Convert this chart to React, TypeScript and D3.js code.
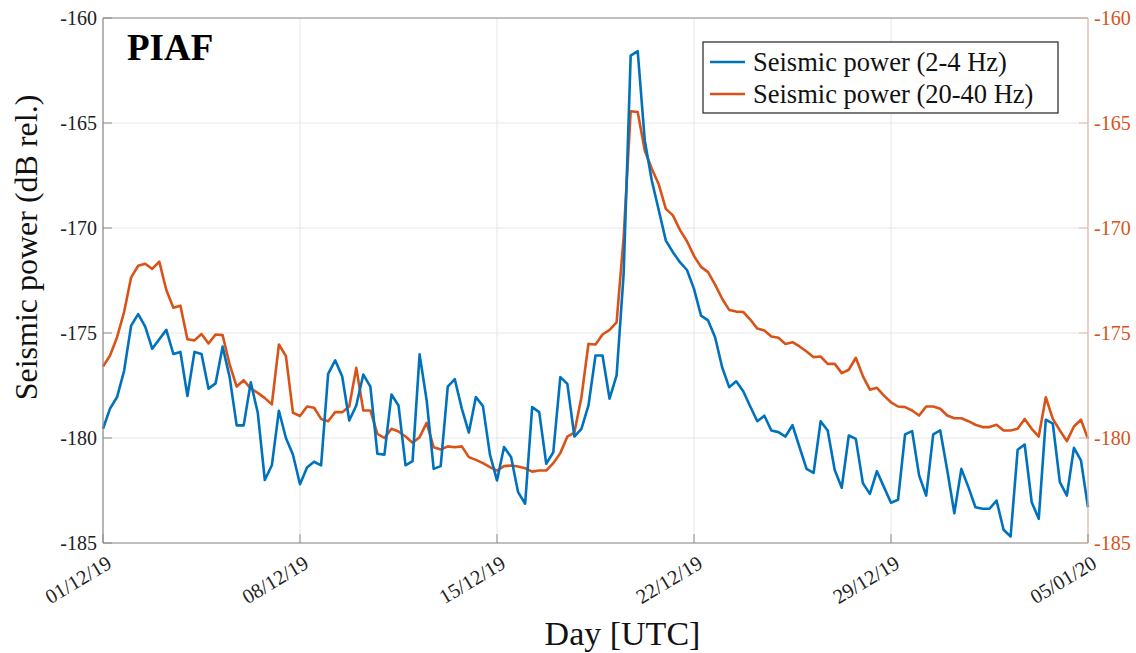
import React from "react";
import * as d3 from "d3";

const startDate = new Date(Date.UTC(2019, 11, 1, 0, 0, 0));
const stepHours = 6;

const lowBand: number[] = [
  -179.56, -178.6, -178.05, -176.8, -174.65, -174.1, -174.7, -175.75, -175.3, -174.85,
  -176.0, -175.9, -178.0, -175.9, -176.0, -177.65, -177.4, -175.65, -177.1, -179.4,
  -179.4, -177.35, -178.8, -182.0, -181.3, -178.7, -180.0, -180.8, -182.2, -181.4,
  -181.13, -181.3, -176.95, -176.3, -177.07, -179.17, -178.45, -176.98, -177.55, -180.75,
  -180.79, -177.93, -178.45, -181.3, -181.1, -176.02, -178.2, -181.47, -181.34, -177.55,
  -177.2, -178.6, -179.74, -178.05, -178.48, -180.79, -182.02, -180.43, -180.91, -182.58,
  -183.13, -178.53, -178.77, -181.23, -180.68, -177.1, -177.42, -179.93, -179.56, -178.45,
  -176.07, -176.07, -178.13, -177.02, -172.2, -161.79, -161.58, -165.83, -167.74, -169.17,
  -170.6, -171.15, -171.63, -172.0, -172.9, -174.17, -174.4, -175.2, -176.63, -177.58,
  -177.3, -177.77, -178.5, -179.2, -178.94, -179.64, -179.72, -179.93, -179.39, -180.44,
  -181.47, -181.66, -179.2, -179.64, -181.52, -182.37, -179.88, -180.04, -182.15, -182.66,
  -181.58, -182.34, -183.08, -182.94, -179.83, -179.67, -181.79, -182.74, -179.83, -179.64,
  -181.55, -183.58, -181.47, -182.34, -183.3, -183.37, -183.37, -182.98, -184.37, -184.69,
  -180.56, -180.31, -183.06, -183.85, -179.13, -179.32, -182.1, -182.74, -180.47, -181.07,
  -183.3,
];

const highBand: number[] = [
  -176.6, -176.07, -175.2, -174.0, -172.35, -171.8, -171.7, -171.95, -171.6, -172.95,
  -173.8, -173.7, -175.3, -175.35, -175.05, -175.5, -175.07, -175.1, -176.5, -177.55,
  -177.25, -177.65, -177.85, -178.1, -178.4, -175.55, -176.1, -178.8, -178.95, -178.5,
  -178.56, -179.09, -179.2, -178.77, -178.77, -178.5, -176.66, -178.69, -178.69, -179.8,
  -180.0, -179.56, -179.69, -179.93, -180.23, -179.96, -179.28, -180.44, -180.55, -180.4,
  -180.44, -180.4, -180.91, -181.04, -181.2, -181.39, -181.55, -181.34, -181.31, -181.36,
  -181.44, -181.6, -181.55, -181.55, -181.2, -180.72, -179.93, -179.74, -178.06, -175.52,
  -175.55, -175.07, -174.85, -174.49, -170.44, -164.44, -164.48, -166.31, -167.18, -167.93,
  -169.09, -169.4, -170.09, -170.63, -171.33, -171.85, -172.1, -172.7, -173.37, -173.9,
  -173.98, -174.0, -174.36, -174.79, -174.88, -175.17, -175.23, -175.52, -175.44, -175.64,
  -175.88, -176.15, -176.12, -176.47, -176.47, -176.91, -176.75, -176.18, -177.05, -177.7,
  -177.61, -177.98, -178.3, -178.5, -178.53, -178.69, -178.93, -178.5, -178.5, -178.61,
  -178.93, -179.06, -179.06, -179.2, -179.37, -179.48, -179.48, -179.37, -179.64, -179.64,
  -179.56, -179.09, -179.56, -179.93, -178.06, -179.09, -179.64, -180.15, -179.45, -179.13,
  -180.04,
];

const xTickLabels: string[] = ["01/12/19", "08/12/19", "15/12/19", "22/12/19", "29/12/19", "05/01/20"];
const xTickDates: Date[] = [
  new Date(Date.UTC(2019, 11, 1)),
  new Date(Date.UTC(2019, 11, 8)),
  new Date(Date.UTC(2019, 11, 15)),
  new Date(Date.UTC(2019, 11, 22)),
  new Date(Date.UTC(2019, 11, 29)),
  new Date(Date.UTC(2020, 0, 5)),
];
const yTicks: number[] = [-160, -165, -170, -175, -180, -185];
const seriesNames: string[] = ["Seismic power (2-4 Hz)", "Seismic power (20-40 Hz)"];
const stationName = "PIAF";

const W = 1136;
const H = 653;
const M = { left: 103, right: 1088, top: 18, bottom: 543 };
const BLUE = "#0072BD";
const ORANGE = "#D95319";
const FONT = "'Liberation Serif', 'Times New Roman', serif";

export default function App() {
  const x = d3
    .scaleUtc()
    .domain([xTickDates[0], xTickDates[xTickDates.length - 1]])
    .range([M.left, M.right]);
  const yL = d3.scaleLinear().domain([-185, -160]).range([M.bottom, M.top]);
  const yR = d3.scaleLinear().domain([-185, -160]).range([M.bottom, M.top]);

  const dateAt = (i: number) => new Date(startDate.getTime() + i * stepHours * 3600 * 1000);
  const lineL = d3
    .line<number>()
    .x((_, i) => x(dateAt(i)))
    .y((d) => yL(d));
  const lineR = d3
    .line<number>()
    .x((_, i) => x(dateAt(i)))
    .y((d) => yR(d));

  const axisGrey = "#8c8c8c";
  const gridGrey = "#e6e6e6";

  return (
    <svg
      width={W}
      height={H}
      style={{ position: "absolute", left: 0, top: 0, background: "#fff" }}
      fontFamily={FONT}
    >
      <rect x={0} y={0} width={W} height={H} fill="#fff" />
      {/* grid */}
      {xTickDates.map((d, i) => (
        <line key={"gx" + i} x1={x(d)} x2={x(d)} y1={M.top} y2={M.bottom} stroke={gridGrey} strokeWidth={1} />
      ))}
      {yTicks.map((t, i) => (
        <line key={"gy" + i} x1={M.left} x2={M.right} y1={yL(t)} y2={yL(t)} stroke={gridGrey} strokeWidth={1} />
      ))}

      {/* data */}
      <path d={lineR(highBand) || ""} fill="none" stroke={ORANGE} strokeWidth={2.6} strokeLinejoin="round" />
      <path d={lineL(lowBand) || ""} fill="none" stroke={BLUE} strokeWidth={2.6} strokeLinejoin="round" />

      {/* box */}
      <line x1={M.left} x2={M.right} y1={M.top} y2={M.top} stroke={axisGrey} strokeWidth={1} />
      <line x1={M.left} x2={M.right} y1={M.bottom} y2={M.bottom} stroke={axisGrey} strokeWidth={1.2} />
      <line x1={M.left} x2={M.left} y1={M.top} y2={M.bottom} stroke={axisGrey} strokeWidth={1.2} />
      <line x1={M.right} x2={M.right} y1={M.top} y2={M.bottom} stroke="#e2b9a6" strokeWidth={1.2} />

      {/* left ticks */}
      {yTicks.map((t, i) => (
        <g key={"yl" + i}>
          <line x1={M.left} x2={M.left + 9} y1={yL(t)} y2={yL(t)} stroke={axisGrey} strokeWidth={1} />
          <text x={M.left - 6} y={yL(t) + 7} textAnchor="end" fontSize={20} fill="#222">
            {t}
          </text>
        </g>
      ))}
      {/* right ticks */}
      {yTicks.map((t, i) => (
        <g key={"yr" + i}>
          <line x1={M.right - 9} x2={M.right} y1={yR(t)} y2={yR(t)} stroke="#e2b9a6" strokeWidth={1} />
          <text x={M.right + 6} y={yR(t) + 7} textAnchor="start" fontSize={20} fill={ORANGE}>
            {t}
          </text>
        </g>
      ))}
      {/* x ticks */}
      {xTickDates.map((d, i) => (
        <g key={"xt" + i}>
          <line x1={x(d)} x2={x(d)} y1={M.bottom} y2={M.bottom - 9} stroke={axisGrey} strokeWidth={1} />
          <text
            transform={`translate(${x(d) + 10},${M.bottom + 24}) rotate(-31)`}
            textAnchor="end"
            fontSize={20.5}
            fill="#222"
          >
            {xTickLabels[i]}
          </text>
        </g>
      ))}

      {/* axis titles */}
      <text x={(M.left + M.right) / 2 + 27} y={645} textAnchor="middle" fontSize={34} fill="#111">
        Day [UTC]
      </text>
      <text
        transform={`translate(37,${(M.top + M.bottom) / 2 - 33}) rotate(-90)`}
        textAnchor="middle"
        fontSize={32}
        fill="#111"
      >
        Seismic power (dB rel.)
      </text>

      {/* station label */}
      <text x={127} y={60} fontSize={37} fontWeight="bold" fill="#000">
        {stationName}
      </text>

      {/* legend */}
      <rect x={703} y={42} width={355} height={71} fill="#fff" stroke="#222" strokeWidth={1.2} />
      <line x1={710} x2={745} y1={62} y2={62} stroke={BLUE} strokeWidth={2.6} />
      <line x1={710} x2={745} y1={94} y2={94} stroke={ORANGE} strokeWidth={2.6} />
      <text x={753} y={71} fontSize={26.5} fill="#111">
        {seriesNames[0]}
      </text>
      <text x={753} y={103} fontSize={26.5} fill="#111">
        {seriesNames[1]}
      </text>
    </svg>
  );
}
